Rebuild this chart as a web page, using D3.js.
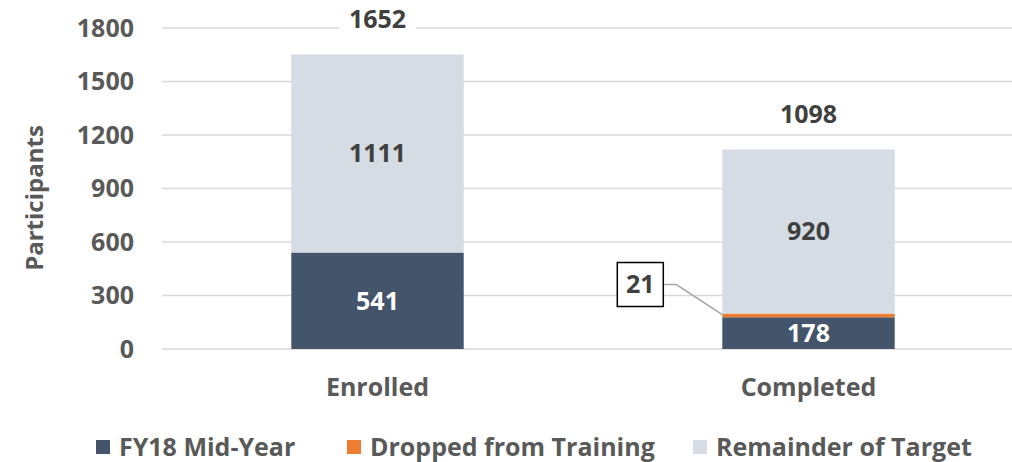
<!DOCTYPE html>
<html>
<head>
<meta charset="utf-8">
<script src="https://cdn.jsdelivr.net/npm/d3@7"></script>
<style>
  body { margin: 0; background: #fff; }
  text { font-family: "Open Sans", sans-serif; font-weight: bold; }
</style>
</head>
<body>
<div id="chart"></div>
<script>
var categories = ["Enrolled", "Completed"];
var seriesNames = ["FY18 Mid-Year", "Dropped from Training", "Remainder of Target"];
var midYear = [541, 178];
var dropped = [0, 21];
var remainder = [1111, 920];
var totals = [1652, 1098];
var yTicks = [0, 300, 600, 900, 1200, 1500, 1800];
var colors = ["#44546A", "#ED7D31", "#D6DCE4"];

var svgWidth = 1012;
var svgHeight = 462;
var fontFam = "'Open Sans', sans-serif";

var svg = d3.select("#chart")
  .append("svg")
  .attr("width", svgWidth)
  .attr("height", svgHeight);

// plot area runs past the right edge, like the original
var x = d3.scaleBand()
  .domain(categories)
  .range([162, 1024])
  .paddingInner(0.6)
  .paddingOuter(0.3);

var y = d3.scaleLinear()
  .domain([0, 1800])
  .range([349, 28]);

var rows = categories.map(function(c, i) {
  return { cat: c, mid: midYear[i], drop: dropped[i], rem: remainder[i] };
});
var stack = d3.stack().keys(["mid", "drop", "rem"]);
var layers = stack(rows);

// gridlines
svg.append("g")
  .selectAll("line")
  .data(yTicks)
  .enter()
  .append("line")
  .attr("x1", 162)
  .attr("x2", svgWidth)
  .attr("y1", d => y(d))
  .attr("y2", d => y(d))
  .attr("stroke", "#D9D9D9")
  .attr("stroke-width", 1.5);

// y axis labels
var yAxis = svg.append("g")
  .attr("transform", "translate(134,0)")
  .call(d3.axisLeft(y).tickValues(yTicks).tickFormat(d3.format("d")).tickSize(0).tickPadding(0));
yAxis.select(".domain").remove();
yAxis.selectAll("text")
  .attr("fill", "#595959")
  .style("font-size", "25px")
  .style("font-family", fontFam)
  .style("font-weight", "bold");

svg.append("text")
  .attr("transform", "translate(35,198) rotate(-90)")
  .attr("text-anchor", "middle")
  .attr("dy", "0.35em")
  .attr("fill", "#595959")
  .style("font-size", "24px")
  .text("Participants");

// bars
svg.append("g")
  .selectAll("g")
  .data(layers)
  .enter()
  .append("g")
  .attr("fill", (d, i) => colors[i])
  .selectAll("rect")
  .data(d => d)
  .enter()
  .append("rect")
  .attr("x", d => x(d.data.cat))
  .attr("width", x.bandwidth())
  .attr("y", d => y(d[1]))
  .attr("height", d => y(d[0]) - y(d[1]));

// segment labels
var segLabel = function(layerIdx, color) {
  svg.append("g")
    .selectAll("text")
    .data(layers[layerIdx].filter(d => d[1] - d[0] > 100))
    .enter()
    .append("text")
    .attr("x", d => x(d.data.cat) + x.bandwidth() / 2)
    .attr("y", d => (y(d[0]) + y(d[1])) / 2)
    .attr("dy", "0.35em")
    .attr("text-anchor", "middle")
    .attr("fill", color)
    .style("font-size", "25px")
    .text(d => d[1] - d[0]);
};
segLabel(0, "#ffffff");
segLabel(2, "#404040");

// callout for the small dropped segment
var dropSeg = layers[1][1];
var bx = x(categories[1]);
var boxCx = bx - 82;
var boxCy = y(dropSeg[1]) - 29;
svg.append("polyline")
  .attr("points", [
    [boxCx + 24, boxCy], [boxCx + 36, boxCy], [bx, y(dropSeg[1]) + 1]
  ].map(p => p.join(",")).join(" "))
  .attr("fill", "none")
  .attr("stroke", "#A6A6A6")
  .attr("stroke-width", 1.5);
svg.append("rect")
  .attr("x", boxCx - 23)
  .attr("y", boxCy - 22)
  .attr("width", 46)
  .attr("height", 44)
  .attr("fill", "#fff")
  .attr("stroke", "#000")
  .attr("stroke-width", 1.5);
svg.append("text")
  .attr("x", boxCx)
  .attr("y", boxCy)
  .attr("dy", "0.35em")
  .attr("text-anchor", "middle")
  .attr("fill", "#404040")
  .style("font-size", "25px")
  .text(dropped[1]);

// totals above bars
var totalG = svg.append("g")
  .selectAll("g")
  .data(rows)
  .enter()
  .append("g")
  .attr("transform", (d, i) => "translate(" + (x(d.cat) + x.bandwidth() / 2) + "," + (y(d.mid + d.drop + d.rem) - 35) + ")");
totalG.append("rect")
  .attr("x", -38)
  .attr("y", -16)
  .attr("width", 76)
  .attr("height", 32)
  .attr("fill", "#fff");
totalG.append("text")
  .attr("dy", "0.35em")
  .attr("text-anchor", "middle")
  .attr("fill", "#404040")
  .style("font-size", "25px")
  .text((d, i) => totals[i]);

// category labels
svg.append("g")
  .selectAll("text")
  .data(categories)
  .enter()
  .append("text")
  .attr("x", d => x(d) + x.bandwidth() / 2)
  .attr("y", 387)
  .attr("dy", "0.35em")
  .attr("text-anchor", "middle")
  .attr("fill", "#595959")
  .style("font-size", "25px")
  .text(d => d);

// legend
var legendX = [96, 347, 693];
var legend = svg.append("g")
  .selectAll("g")
  .data(seriesNames)
  .enter()
  .append("g")
  .attr("transform", (d, i) => "translate(" + legendX[i] + ",447)");
legend.append("rect")
  .attr("x", 0)
  .attr("y", -7)
  .attr("width", 14)
  .attr("height", 14)
  .attr("fill", (d, i) => colors[i]);
legend.append("text")
  .attr("x", 23)
  .attr("dy", "0.35em")
  .attr("fill", "#595959")
  .style("font-size", "25px")
  .text(d => d);
</script>
</body>
</html>
